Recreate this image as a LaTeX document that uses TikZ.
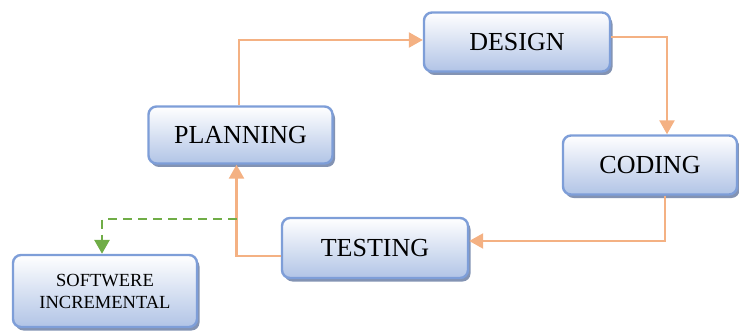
\documentclass[tikz,border=0pt]{standalone}
\usepackage{fontspec}
\setmainfont{Liberation Serif}
\usetikzlibrary{arrows.meta,shadows}
\definecolor{boxline}{HTML}{7E9ED8}
\definecolor{boxfill}{HTML}{B1C4E6}
\definecolor{boxshadow}{HTML}{8393B3}
\definecolor{flow}{HTML}{F4B183}
\definecolor{branch}{HTML}{70AD47}
\begin{document}
\begin{tikzpicture}
[
    x=1pt, y=-1pt,
    phase/.style={draw=boxline, line width=2.4pt, rounded corners=8pt,
        top color=white, bottom color=boxfill,
        drop shadow={shadow xshift=2.5pt, shadow yshift=-3.5pt, fill=boxshadow, opacity=1},
        font=\fontsize{26}{30}\selectfont, inner sep=0pt},
    flowline/.style={draw=flow, line width=2.5pt, -{Triangle[length=14pt,width=15pt]}},
    branchline/.style={draw=branch, line width=2.8pt, dash pattern=on 9pt off 6pt,
        -{Triangle[length=14pt,width=15pt]}},
]
\useasboundingbox (0,0) rectangle (739,334);
\node[phase, minimum width=184pt, minimum height=57pt] (planning) at (240.5,135) {PLANNING};
\node[phase, minimum width=186pt, minimum height=59pt] (design) at (517,42) {DESIGN};
\node[phase, minimum width=174pt, minimum height=59pt] (coding) at (650,165) {CODING};
\node[phase, minimum width=186pt, minimum height=60pt] (testing) at (375,248) {TESTING};
\node[phase, minimum width=184pt, minimum height=72pt, align=center,
    font=\fontsize{18.5}{22}\selectfont] (softwere) at (105,291) {SOFTWERE\\INCREMENTAL};
% cycle
\draw[flowline] ([xshift=-1.5pt]planning.north) |- ([yshift=2pt]design.west);
\draw[flowline] ([yshift=5pt]design.east) -| ([xshift=17pt]coding.north);
\draw[flowline] ([xshift=15pt]coding.south) |- ([yshift=7pt]testing.east);
\draw[flowline] ([yshift=-8pt]testing.west) -| ([xshift=-4pt]planning.south);
% branch
\coordinate (split) at (236.5,219);
\draw[branchline] (split) -| ([xshift=-3pt]softwere.north);
\end{tikzpicture}
\end{document}
